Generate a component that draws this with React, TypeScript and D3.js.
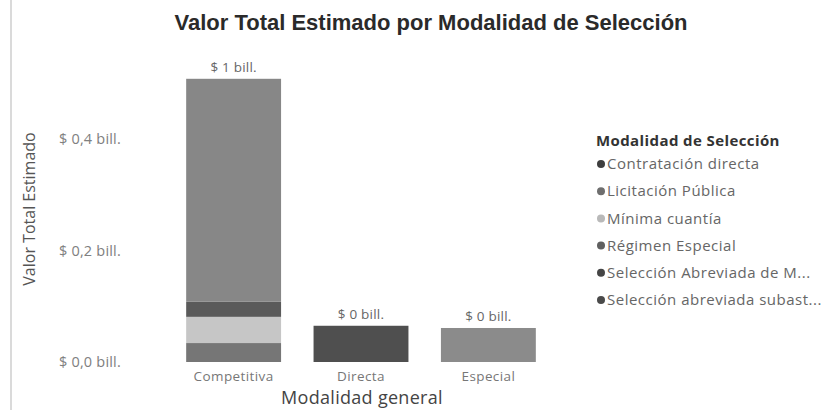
import React from "react";
import * as d3 from "d3";

const categories = ["Competitiva", "Directa", "Especial"];
const seriesNames = [
  "Contratación directa",
  "Licitación Pública",
  "Mínima cuantía",
  "Régimen Especial",
  "Selección Abreviada de M...",
  "Selección abreviada subast...",
];
// values in billones (per category: Competitiva, Directa, Especial)
const contratacionDirecta = [0, 0.065, 0];
const licitacionPublica = [0.034, 0, 0];
const minimaCuantia = [0.047, 0, 0];
const regimenEspecial = [0, 0, 0.061];
const seleccionAbreviadaMenor = [0.027, 0, 0];
const seleccionAbreviadaSubasta = [0.4, 0, 0];
const yTicks = [0, 0.2, 0.4];
const seriesColors = ["#4f4f4f", "#767676", "#c6c6c6", "#8b8b8b", "#5a5a5a", "#878787"];
const legendDotColors = ["#3e3e3e", "#6e6e6e", "#b9b9b9", "#606060", "#454545", "#4a4a4a"];

const seriesValues = [
  contratacionDirecta,
  licitacionPublica,
  minimaCuantia,
  regimenEspecial,
  seleccionAbreviadaMenor,
  seleccionAbreviadaSubasta,
];

const W = 836;
const H = 410;
const UI = "'Segoe UI', 'Open Sans', 'Noto Sans', sans-serif";

export default function App() {
  const rows = categories.map((c, i) => {
    const r: any = { category: c };
    seriesNames.forEach((s, j) => (r[s] = seriesValues[j][i]));
    return r;
  });
  const stack = d3.stack<any>().keys(seriesNames)(rows);
  const x = d3
    .scaleBand<string>()
    .domain(categories)
    .range([170, 552])
    .paddingInner(0.255)
    .paddingOuter(0.127);
  const y = d3.scaleLinear().domain([0, 0.2]).range([362, 250.5]);
  const totals = categories.map((_, i) => d3.sum(seriesValues, (s) => s[i]));
  const fmtTick = (d: number) => "$ " + d.toFixed(1).replace(".", ",") + " bill.";
  const fmtTotal = (d: number) => "$ " + d3.format(".0f")(d) + " bill.";

  return (
    <svg
      width={W}
      height={H}
      style={{ position: "absolute", left: 0, top: 0, background: "#fff" }}
    >
      <line x1={11} x2={11} y1={0} y2={H} stroke="#b5b5b5" strokeWidth={1} />
      <text
        x={431}
        y={30}
        textAnchor="middle"
        fontFamily="'Liberation Sans', Arial, sans-serif"
        fontWeight="bold"
        fontSize={22}
        fill="#2a2a2a"
      >
        Valor Total Estimado por Modalidad de Selección
      </text>

      {/* y axis */}
      <text
        transform={`translate(35,209) rotate(-90)`}
        textAnchor="middle"
        fontFamily={UI}
        fontSize={16}
        fill="#555"
      >
        Valor Total Estimado
      </text>
      {yTicks.map((t) => (
        <text
          key={t}
          x={121}
          y={y(t)}
          dy="0.35em"
          textAnchor="end"
          fontFamily={UI}
          fontSize={14.5}
          letterSpacing={0.2}
          fill="#808080"
        >
          {fmtTick(t)}
        </text>
      ))}

      {/* bars */}
      {stack.map((layer, j) => (
        <g key={layer.key} fill={seriesColors[j]}>
          {layer.map((d, i) =>
            d[1] - d[0] > 0 ? (
              <rect
                key={i}
                x={x(categories[i])}
                width={x.bandwidth()}
                y={y(d[1])}
                height={y(d[0]) - y(d[1])}
              />
            ) : null
          )}
        </g>
      ))}
      {categories.map((c, i) => (
        <text
          key={c}
          x={(x(c) as number) + x.bandwidth() / 2}
          y={y(totals[i]) - 7}
          textAnchor="middle"
          fontFamily={UI}
          fontSize={13.5}
          letterSpacing={0.2}
          fill="#666"
        >
          {fmtTotal(totals[i])}
        </text>
      ))}

      {/* x axis */}
      {categories.map((c) => (
        <text
          key={c}
          x={(x(c) as number) + x.bandwidth() / 2}
          y={381}
          textAnchor="middle"
          fontFamily={UI}
          fontSize={13.5}
          letterSpacing={0.4}
          fill="#777"
        >
          {c}
        </text>
      ))}
      <text
        x={362}
        y={404}
        textAnchor="middle"
        fontFamily={UI}
        fontSize={18}
        letterSpacing={0.3}
        fill="#444"
      >
        Modalidad general
      </text>

      {/* legend */}
      <text
        x={596}
        y={146}
        fontFamily={UI}
        fontWeight="bold"
        fontSize={15}
        letterSpacing={0.4}
        fill="#333"
      >
        Modalidad de Selección
      </text>
      {seriesNames.map((s, j) => (
        <g key={s} transform={`translate(0,${164 + j * 27.2})`}>
          <circle cx={601} cy={0} r={4} fill={legendDotColors[j]} />
          <text
            x={607}
            y={0}
            dy="0.35em"
            fontFamily={UI}
            fontSize={15}
            letterSpacing={0.5}
            fill="#666"
          >
            {s}
          </text>
        </g>
      ))}
    </svg>
  );
}
